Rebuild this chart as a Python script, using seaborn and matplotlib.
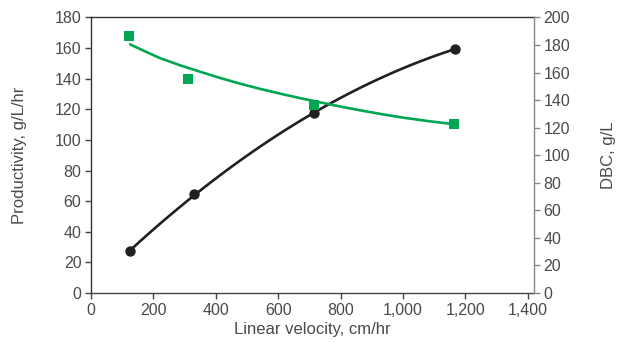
import numpy as np
import pandas as pd
import seaborn as sns
import matplotlib.pyplot as plt
from matplotlib.ticker import FuncFormatter

# productivity points (left axis)
velocity_prod = [125, 330, 716, 1167]
productivity = [27.4, 64.5, 117.4, 159.5]

# DBC points (right axis)
velocity_dbc = [122, 312, 715, 1165]
dbc = [186.5, 155.5, 136.3, 122.7]

# DBC trend curve
trend_x = [125, 170, 220, 285, 350, 415, 480, 545, 610, 675, 740, 805, 870, 935, 1000, 1080, 1165]
trend_dbc = [180.5, 175.7, 170.6, 165.3, 160.6, 156.0, 151.8, 148.0, 144.5, 141.2, 138.1, 135.1,
             132.3, 129.7, 127.3, 124.8, 122.5]

sns.set_style('ticks')
plt.rcParams['font.family'] = ['Liberation Sans', 'DejaVu Sans']
txt = '#4a4a4a'
green = '#00a651'
black = '#231f20'

fig, ax = plt.subplots(figsize=(6.2, 3.43), dpi=100)
fig.subplots_adjust(left=0.147, right=0.861, bottom=0.146, top=0.949)

df_prod = pd.DataFrame({'v': velocity_prod, 'p': productivity})
sns.regplot(data=df_prod, x='v', y='p', order=2, ci=None, ax=ax,
            color=black, scatter_kws={'s': 42, 'alpha': 1, 'zorder': 4},
            line_kws={'lw': 1.9, 'zorder': 3})

ax2 = ax.twinx()
df_dbc = pd.DataFrame({'v': velocity_dbc, 'd': dbc})
df_trend = pd.DataFrame({'v': trend_x, 'd': trend_dbc})
sns.lineplot(data=df_trend, x='v', y='d', ax=ax2, color=green, lw=1.9, zorder=3)
sns.scatterplot(data=df_dbc, x='v', y='d', ax=ax2, color=green, marker='s',
                s=52, edgecolor='none', zorder=4)

ax.set_xlim(0, 1420)
ax.set_ylim(0, 180)
ax2.set_ylim(0, 200)
ax.set_xticks(np.arange(0, 1401, 200))
ax.set_yticks(np.arange(0, 181, 20))
ax2.set_yticks(np.arange(0, 201, 20))
ax.xaxis.set_major_formatter(FuncFormatter(lambda v, p: f'{int(v):,}'))

ax.set_xlabel('Linear velocity, cm/hr', fontsize=12, color=txt, labelpad=3)
ax.set_ylabel('Productivity, g/L/hr', fontsize=12, color=txt, labelpad=20)
ax2.set_ylabel('DBC, g/L', fontsize=12, color=txt, labelpad=22)

for a in (ax, ax2):
    for s in a.spines.values():
        s.set_linewidth(1.0)
    a.tick_params(direction='out', length=4, width=1, labelsize=11.5,
                  labelcolor=txt, pad=3)
ax.spines['left'].set_color('#333333')
ax.spines['bottom'].set_color('#444444')
ax.spines['top'].set_color('#333333')
ax2.spines['top'].set_visible(False)
ax2.spines['left'].set_visible(False)
ax2.spines['bottom'].set_visible(False)
ax2.spines['right'].set_color('#888888')
ax.spines['right'].set_visible(False)
ax.tick_params(colors='#444444', labelcolor=txt)
ax2.tick_params(colors='#888888', labelcolor=txt)

plt.savefig('out.png', dpi=100)
